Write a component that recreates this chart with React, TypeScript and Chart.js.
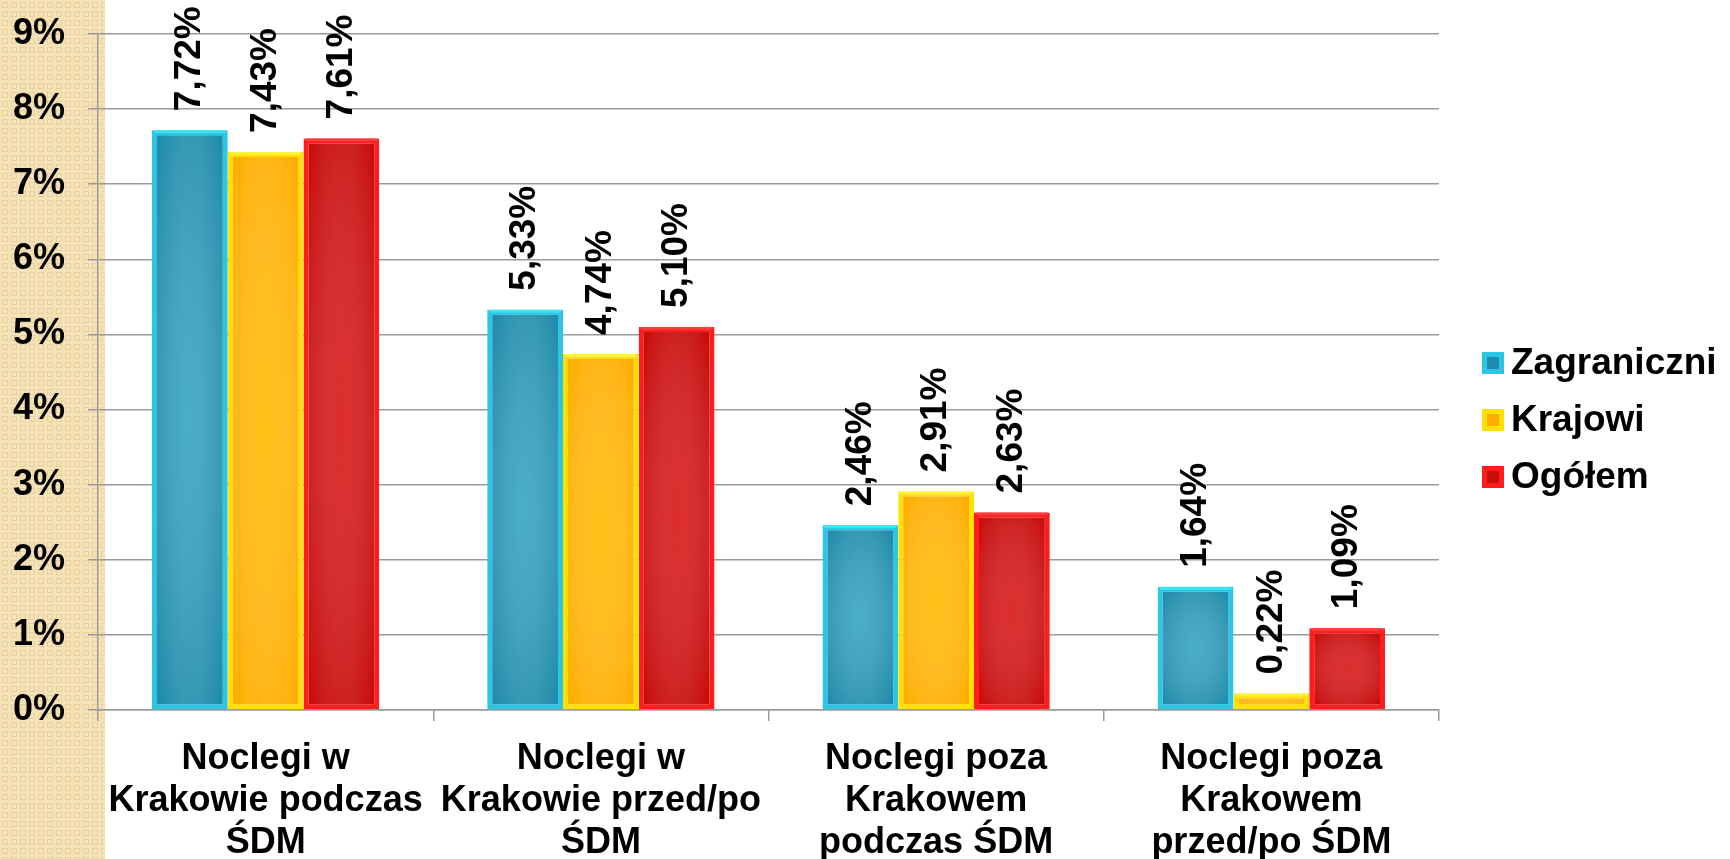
import React, { useEffect, useRef } from 'react';
import { Chart, registerables } from 'chart.js';

Chart.register(...registerables);

const FONT = '"Liberation Sans", Arial, Helvetica, sans-serif';

const categories: string[][] = [
  ['Noclegi w', 'Krakowie podczas', 'ŚDM'],
  ['Noclegi w', 'Krakowie przed/po', 'ŚDM'],
  ['Noclegi poza', 'Krakowem', 'podczas ŚDM'],
  ['Noclegi poza', 'Krakowem', 'przed/po ŚDM'],
];
const seriesNames = ['Zagraniczni', 'Krajowi', 'Ogółem'];
const zagraniczni = [7.72, 5.33, 2.46, 1.64];
const krajowi = [7.43, 4.74, 2.91, 0.22];
const ogolem = [7.61, 5.1, 2.63, 1.09];
const yMin = 0;
const yMax = 9;
const yStep = 1;

const palette = [
  { border: '#2ac6e4', fill: '#1f8cab', glow: 'rgba(120,215,240,0.45)', bevel: '#3ae4f4' },
  { border: '#ffe000', fill: '#ffae00', glow: 'rgba(255,215,40,0.45)', bevel: '#fff040' },
  { border: '#ff1c1c', fill: '#c80d0d', glow: 'rgba(255,90,90,0.40)', bevel: '#ff3a3a' },
];

const fmt = (v: number) => v.toFixed(2).replace('.', ',') + '%';

const backgroundPlugin = {
  id: 'bgStrip',
  beforeDraw(chart: any) {
    const ctx = chart.ctx as CanvasRenderingContext2D;
    ctx.save();
    ctx.fillStyle = '#ffffff';
    ctx.fillRect(0, 0, chart.width, chart.height);
    const pc = document.createElement('canvas');
    pc.width = 9;
    pc.height = 9;
    const p = pc.getContext('2d')!;
    p.fillStyle = '#f6e2b7';
    p.fillRect(0, 0, 9, 9);
    p.strokeStyle = '#e7cf9e';
    p.lineWidth = 1;
    p.strokeRect(2.5, 2.5, 5, 5);
    const pat = ctx.createPattern(pc, 'repeat');
    if (pat) ctx.fillStyle = pat;
    ctx.fillRect(0, 0, 105, chart.height);
    ctx.restore();
  },
};

const glossPlugin = {
  id: 'gloss',
  afterDatasetsDraw(chart: any) {
    const ctx = chart.ctx as CanvasRenderingContext2D;
    chart.data.datasets.forEach((_ds: any, i: number) => {
      const meta = chart.getDatasetMeta(i);
      meta.data.forEach((bar: any) => {
        const left = bar.x - bar.width / 2 + 5;
        const right = bar.x + bar.width / 2 - 5;
        const top = bar.y + 5;
        const bottom = bar.base - 5;
        const w = right - left;
        const h = bottom - top;
        // bevel highlight on top edge
        ctx.save();
        ctx.fillStyle = palette[i].bevel;
        ctx.fillRect(bar.x - bar.width / 2 + 2, bar.y, bar.width - 4, 3);
        ctx.restore();
        if (w <= 0 || h <= 0) return;
        ctx.save();
        ctx.beginPath();
        ctx.rect(left, top, w, h);
        ctx.clip();
        const cx = (left + right) / 2;
        const cy = (top + bottom) / 2;
        const sy = Math.max(h / w, 0.2);
        ctx.translate(cx, cy);
        ctx.scale(1, sy);
        const r = (w / 2) * 1.35;
        const g = ctx.createRadialGradient(0, 0, 0, 0, 0, r);
        g.addColorStop(0, palette[i].glow);
        g.addColorStop(1, 'rgba(255,255,255,0)');
        ctx.fillStyle = g;
        ctx.fillRect(-r, -r, 2 * r, 2 * r);
        ctx.restore();
      });
    });
  },
};

const labelPlugin = {
  id: 'valueLabels',
  afterDatasetsDraw(chart: any) {
    const ctx = chart.ctx as CanvasRenderingContext2D;
    ctx.save();
    ctx.font = `bold 37px ${FONT}`;
    ctx.fillStyle = '#000';
    chart.data.datasets.forEach((ds: any, i: number) => {
      const meta = chart.getDatasetMeta(i);
      meta.data.forEach((bar: any, j: number) => {
        const v = ds.data[j] as number;
        ctx.save();
        ctx.translate(bar.x, bar.y - 19);
        ctx.rotate(-Math.PI / 2);
        ctx.textAlign = 'left';
        ctx.textBaseline = 'middle';
        ctx.fillText(fmt(v), 0, 0);
        ctx.restore();
      });
    });
    ctx.restore();
  },
};

const legendPlugin = {
  id: 'customLegend',
  afterDraw(chart: any) {
    const ctx = chart.ctx as CanvasRenderingContext2D;
    const ys = [363, 420, 477];
    ctx.save();
    chart.data.datasets.forEach((ds: any, i: number) => {
      const y = ys[i];
      const x = 1482;
      const s = 22;
      ctx.fillStyle = palette[i].border;
      ctx.fillRect(x, y - s / 2, s, s);
      ctx.fillStyle = palette[i].fill;
      ctx.fillRect(x + 5, y - s / 2 + 5, s - 10, s - 10);
      ctx.fillStyle = '#000';
      ctx.font = `bold 37px ${FONT}`;
      ctx.textAlign = 'left';
      ctx.textBaseline = 'middle';
      ctx.fillText(ds.label, 1511, y + 1);
    });
    ctx.restore();
  },
};

export default function App() {
  const ref = useRef<HTMLCanvasElement | null>(null);

  useEffect(() => {
    if (!ref.current) return;
    const series = [zagraniczni, krajowi, ogolem];
    const chart = new Chart(ref.current, {
      type: 'bar',
      data: {
        labels: categories,
        datasets: series.map((d, i) => ({
          label: seriesNames[i],
          data: d,
          backgroundColor: palette[i].fill,
          borderColor: palette[i].border,
          borderWidth: 5,
          borderSkipped: false,
          categoryPercentage: 0.678,
          barPercentage: 1,
        })),
      },
      options: {
        animation: false,
        responsive: false,
        devicePixelRatio: 1,
        layout: { padding: { top: 34, right: 291, left: 0, bottom: 0 } },
        plugins: {
          legend: { display: false },
          tooltip: { enabled: false },
        },
        scales: {
          x: {
            grid: {
              drawOnChartArea: false,
              drawTicks: true,
              tickLength: 11,
              color: '#9a9a9a',
              lineWidth: 1.5,
              offset: true,
            },
            border: { color: '#9a9a9a', width: 1.5 },
            ticks: {
              color: '#000',
              font: { family: FONT, size: 36, weight: 'bold', lineHeight: 42 / 36 },
              padding: 17,
              maxRotation: 0,
              autoSkip: false,
            },
            afterFit: (s: any) => {
              s.height = 149;
              s.paddingLeft = 0;
              s.paddingRight = 0;
            },
          },
          y: {
            min: yMin,
            max: yMax,
            ticks: {
              stepSize: yStep,
              color: '#000',
              font: { family: FONT, size: 36, weight: 'bold' },
              padding: 23,
              callback: (v: any) => `${v}%`,
            },
            grid: { color: '#9a9a9a', lineWidth: 1.5, tickLength: 10 },
            border: { color: '#9a9a9a', width: 1.5 },
            afterFit: (s: any) => {
              s.width = 98;
              s.paddingTop = 0;
              s.paddingBottom = 0;
            },
          },
        },
      },
      plugins: [backgroundPlugin, glossPlugin, labelPlugin, legendPlugin],
    } as any);
    return () => chart.destroy();
  }, []);

  return (
    <div style={{ position: 'absolute', left: 0, top: 0, width: 1730, height: 859 }}>
      <canvas ref={ref} width={1730} height={859} style={{ width: 1730, height: 859 }} />
    </div>
  );
}
